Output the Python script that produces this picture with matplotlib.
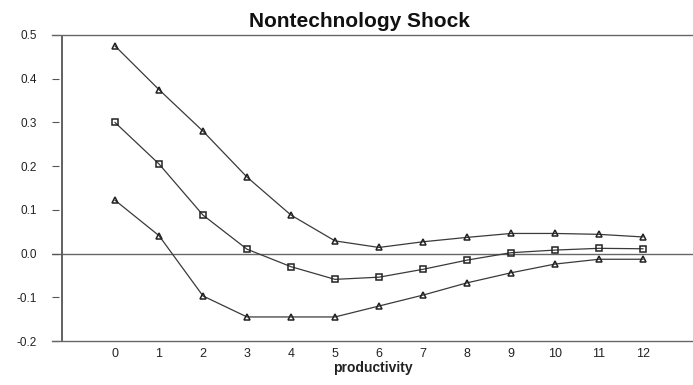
import matplotlib
matplotlib.use("Agg")
import matplotlib.pyplot as plt
from matplotlib.ticker import FormatStrFormatter

plt.rcParams['font.family'] = ['Liberation Sans', 'DejaVu Sans']

horizon = list(range(13))
upper = [0.475, 0.375, 0.280, 0.175, 0.088, 0.029, 0.014, 0.027, 0.037, 0.046, 0.046, 0.044, 0.038]
middle = [0.300, 0.205, 0.088, 0.010, -0.030, -0.059, -0.054, -0.036, -0.015, 0.002, 0.008, 0.012, 0.011]
lower = [0.122, 0.041, -0.097, -0.145, -0.145, -0.145, -0.120, -0.095, -0.067, -0.044, -0.024, -0.013, -0.013]
y_ticks = [-0.2, -0.1, 0.0, 0.1, 0.2, 0.3, 0.4, 0.5]

W, H = 693, 385
fig = plt.figure(figsize=(W / 100, H / 100), dpi=100)
ax = fig.add_axes([52 / W, 44 / H, (W - 52) / W, (341 - 35) / H])

ax.set_xlim(-63 / 44, (693 - 115) / 44)
ax.set_ylim(-0.2, 0.5)

line_kw = dict(color='#3a3a3a', lw=0.9, markerfacecolor='none',
               markeredgecolor='#222222', markersize=4.5, markeredgewidth=1.1)
ax.plot(horizon, upper, marker='^', **line_kw)
ax.plot(horizon, middle, marker='s', **line_kw)
ax.plot(horizon, lower, marker='^', **line_kw)

ax.axhline(0.0, color='#666666', lw=1.0, zorder=0)
ax.axvline(-53 / 44, color='#555555', lw=1.3)

for side in ('right', 'left'):
    ax.spines[side].set_visible(False)
for side in ('top', 'bottom'):
    ax.spines[side].set_color('#666666')
    ax.spines[side].set_linewidth(1.0)

ax.set_yticks(y_ticks)
ax.yaxis.set_major_formatter(FormatStrFormatter('%.1f'))
ax.tick_params(axis='y', direction='in', length=5, width=0.8, color='#555555',
               labelsize=8.5, pad=11, labelcolor='#222222')
ax.set_xticks(horizon)
ax.tick_params(axis='x', length=0, labelsize=9, pad=5, labelcolor='#222222')

ax.set_xlabel('productivity', fontsize=10, fontweight='bold', labelpad=1, color='#222222')
ax.set_title('Nontechnology Shock', fontsize=15, fontweight='bold', pad=6,
             color='#111111', x=0.479)

fig.savefig('out.png', dpi=100)
